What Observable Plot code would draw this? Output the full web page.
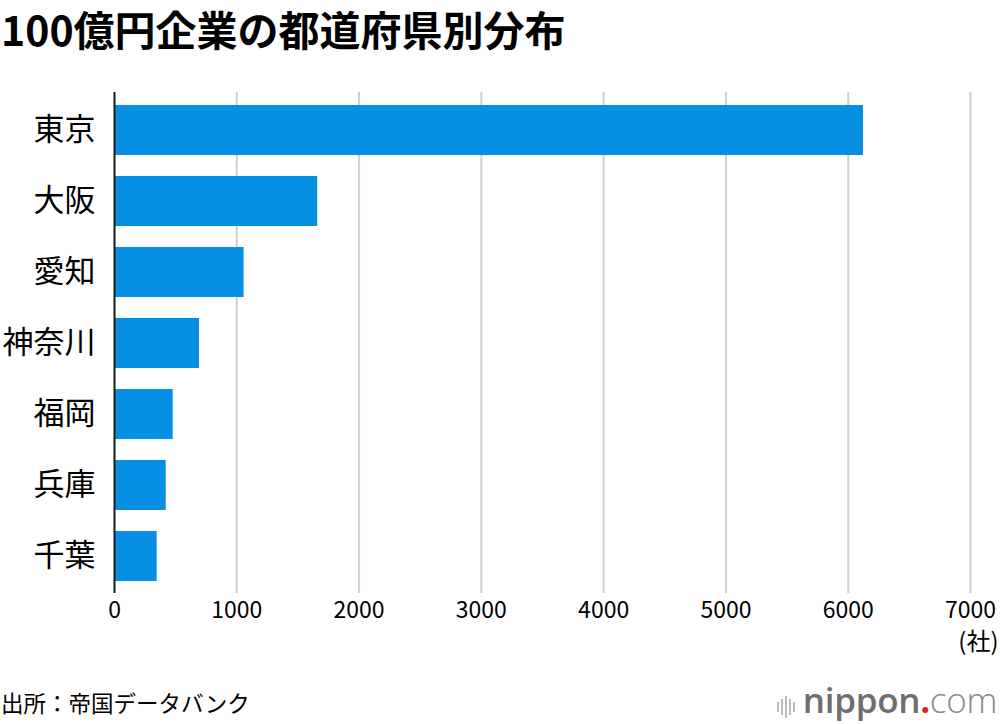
<!DOCTYPE html>
<html>
<head>
<meta charset="utf-8">
<script src="https://cdn.jsdelivr.net/npm/d3@7"></script>
<script src="https://cdn.jsdelivr.net/npm/@observablehq/plot@0.6"></script>
<style>
  html, body { margin: 0; padding: 0; background: #fff; }
  body { width: 1000px; height: 724px; overflow: hidden; position: relative;
         font-family: "Noto Sans CJK JP", "Noto Sans", sans-serif; color: #000; }
  #title { height: 70px; margin: 0; padding: 0 0 0 1px; box-sizing: border-box;
           font-size: 41px; font-weight: 700; line-height: 56px; white-space: nowrap; }
  #chart { height: 600px; }
  #footer { position: relative; height: 54px; }
  #source { position: absolute; left: 1px; top: 17px; font-size: 22.5px; line-height: 30px; }
  #logo { position: absolute; right: 3px; top: 10px; font-family: "Open Sans", "Noto Sans", sans-serif;
          font-size: 35px; line-height: 40px; color: #6e6e6e; letter-spacing: -0.3px; }
  #logo .b { font-weight: 600; }
  #logo .d { color: #e8202a; font-weight: 700; }
  #logo .c { color: #8a8a8a; font-weight: 300; }
  #logo .bars { display: inline-block; vertical-align: middle; margin-right: 6px; }
  #logo .bars i { display: inline-block; width: 2px; margin-right: 2px; background: #bbb; vertical-align: middle; }
</style>
</head>
<body>
<div id="title">100億円企業の都道府県別分布</div>
<div id="chart"></div>
<div id="footer">
  <div id="source">出所：帝国データバンク</div>
  <div id="logo"><span class="bars"><i style="height:10px"></i><i style="height:16px"></i><i style="height:22px"></i><i style="height:16px"></i><i style="height:10px"></i></span><span class="b">nippon</span><span class="d">.</span><span class="c">com</span></div>
</div>
<script>
const prefectures = ["東京", "大阪", "愛知", "神奈川", "福岡", "兵庫", "千葉"];
const companies = [6125, 1662, 1060, 695, 480, 423, 349];
const xTicks = [0, 1000, 2000, 3000, 4000, 5000, 6000, 7000];
const unitLabel = "(社)";

const data = prefectures.map((p, i) => ({prefecture: p, count: companies[i]}));

const chart = Plot.plot({
  width: 1000,
  height: 600,
  marginLeft: 114,
  marginRight: 30,
  marginTop: 22,
  marginBottom: 77,
  style: {fontFamily: "'Noto Sans CJK JP', 'Noto Sans', sans-serif", color: "#000", background: "#fff"},
  x: {domain: [0, 7000], ticks: xTicks},
  y: {domain: prefectures, paddingInner: 0.3, paddingOuter: 0.15},
  marks: [
    Plot.gridX(xTicks.filter(d => d > 0), {stroke: "#cfcfcf", strokeOpacity: 1, strokeWidth: 2}),
    Plot.barX(data, {x: "count", y: "prefecture", fill: "#078fe4"}),
    Plot.ruleX([0], {stroke: "#1a1a1a", strokeWidth: 2}),
    Plot.axisX({ticks: xTicks, tickSize: 0, tickPadding: 8, fontSize: 23, label: null, tickFormat: d => String(d)}),
    Plot.axisY({tickSize: 0, tickPadding: 19, fontSize: 31, label: null}),
    Plot.text([unitLabel], {frameAnchor: "bottom-right", dx: 28, dy: 56, fontSize: 24, textAnchor: "end", fill: "#000"})
  ]
});
document.getElementById("chart").appendChild(chart);
</script>
</body>
</html>
